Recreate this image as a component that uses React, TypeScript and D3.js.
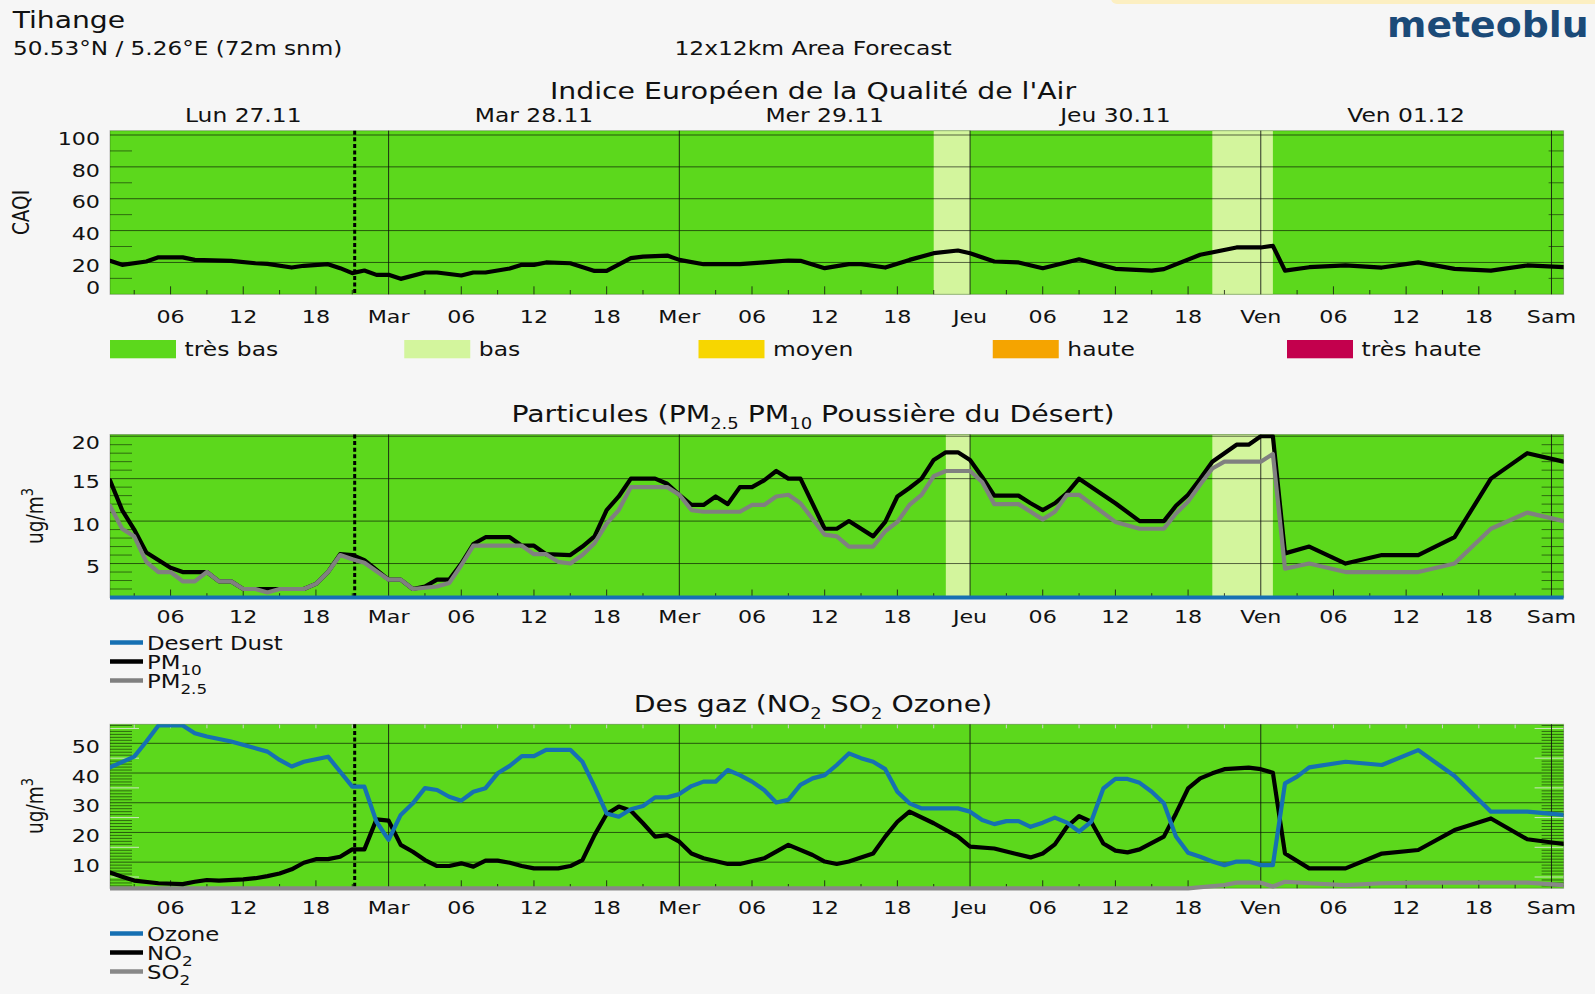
import React from 'react';
import * as d3 from 'd3';

// ---------- time axis (hours counted from Lun 27.11 01:00) ----------
const START = new Date(2023, 10, 27, 1);
const END = new Date(2023, 11, 2, 1);
const NOW_HOUR = 20.2;
const dayAbbr = ['Dim', 'Lun', 'Mar', 'Mer', 'Jeu', 'Ven', 'Sam'];
const dayHeaderLabels = ['Lun 27.11', 'Mar 28.11', 'Mer 29.11', 'Jeu 30.11', 'Ven 01.12'];
const dayHeaderNoon = [
  new Date(2023, 10, 27, 12),
  new Date(2023, 10, 28, 12),
  new Date(2023, 10, 29, 12),
  new Date(2023, 10, 30, 12),
  new Date(2023, 11, 1, 12),
];

// ---------- CAQI classes ----------
const caqiClasses = ['très bas', 'bas', 'moyen', 'haute', 'très haute'];
const caqiColors = ['#5cd81c', '#d3f59d', '#f7d600', '#f5a400', '#c3004d'];

// periods with "bas" background [startHour, endHour]
const caqiBands = [[68, 71], [91, 96]];
const pmBands = [[69, 71], [91, 96]];

// ---------- series: [hour, value] ----------
const caqi = [[0,21],[1,18.5],[3,20.6],[4,23.2],[6,23.2],[7,21.6],[10,21],[12,19.5],[13,19.1],[15,16.8],[16,17.9],[18,18.9],[19,16.4],[20,13.3],[21,14.9],[22,12.2],[23,12.2],[24,9.7],[26,13.7],[27,13.7],[29,11.8],[30,13.7],[31,13.7],[33,16.2],[34,18.5],[35,18.5],[36,20],[38,19.5],[40,14.7],[41,14.7],[43,22.7],[44,23.7],[46,24.3],[47,21.6],[49,18.9],[52,18.9],[54,20],[56,21.2],[57,21],[59,16.4],[61,18.9],[62,18.9],[64,16.8],[66,21.6],[68,25.8],[70,27.5],[71,25.8],[73,20.6],[75,20],[77,16.4],[80,22],[82,18],[83,16],[86,14.9],[87,15.8],[90,24.8],[93,29.4],[95,29.4],[96,30.4],[97,14.9],[99,17],[102,18.1],[105,16.8],[108,20],[111,16],[114,14.9],[117,18.1],[120,17]];

const pm10 = [[0,14.8],[1,11.3],[2,9.0],[3,6.3],[5,4.5],[6,4.0],[8,4.0],[9,2.9],[10,2.9],[11,2.0],[12,2.0],[13,2.0],[14,2.0],[16,2.0],[17,2.6],[18,4.0],[19,6.1],[20,6.0],[21,5.4],[23,3.1],[24,3.1],[25,2.0],[26,2.3],[27,3.1],[28,3.1],[29,5.0],[30,7.3],[31,8.1],[33,8.1],[34,7.1],[35,7.1],[36,6.1],[38,6.0],[39,7.0],[40,8.2],[41,11.3],[42,12.9],[43,15.0],[45,15.0],[46,14.4],[47,13.1],[48,11.9],[49,11.9],[50,12.9],[51,12.0],[52,14.0],[53,14.0],[54,14.8],[55,15.9],[56,15.0],[57,15.0],[59,9.1],[60,9.1],[61,10.0],[63,8.2],[64,9.9],[65,12.9],[66,13.9],[67,15.0],[68,17.2],[69,18.1],[70,18.1],[71,17.2],[72,15.2],[73,13.0],[75,13.0],[76,12.1],[77,11.3],[78,12.1],[79,13.3],[80,15.0],[83,12.1],[85,10.0],[87,10.0],[88,11.8],[89,13.1],[90,15.0],[91,17.0],[92,18.0],[93,19.0],[94,19.0],[95,20.0],[96,20.0],[97,6.2],[99,7.0],[102,5.0],[105,6.0],[108,6.0],[111,8.1],[114,15.0],[117,18.0],[120,17.0]];

const pm25 = [[0,11.8],[1,9.1],[2,8.2],[3,5.2],[4,4.0],[5,4.0],[6,2.9],[7,2.9],[8,4.0],[9,2.9],[10,2.9],[11,2.0],[12,2.0],[13,1.6],[14,2.0],[16,2.0],[17,2.6],[18,4.0],[19,6.0],[20,5.5],[21,5.1],[23,3.1],[24,3.1],[25,2.0],[27,2.3],[28,2.7],[29,4.8],[30,7.1],[34,7.1],[35,6.1],[36,6.1],[37,5.2],[38,5.0],[39,6.0],[40,7.4],[41,9.7],[42,11.3],[43,14.0],[46,14.0],[47,13.1],[48,11.3],[49,11.1],[52,11.1],[53,11.9],[54,11.9],[55,12.9],[56,13.1],[57,12.1],[59,8.4],[60,8.2],[61,7.0],[63,7.0],[64,8.8],[65,9.9],[66,11.9],[67,13.1],[68,15.3],[69,15.9],[71,15.9],[72,14.6],[73,12.0],[75,12.0],[76,11.1],[77,10.2],[78,11.1],[79,13.1],[80,13.1],[83,9.9],[85,9.1],[87,9.1],[88,10.9],[89,12.3],[90,14.3],[91,16.2],[92,17.0],[95,17.0],[96,17.9],[97,4.4],[99,5.0],[102,4.0],[108,4.0],[111,5.0],[114,9.1],[117,11.0],[120,10.0]];

const desertDust = [[0,1.0],[24,1.0],[48,1.0],[72,1.0],[96,1.0],[120,1.0]];

const ozone = [[0,41.9],[2,45.5],[3,50.6],[4,56.0],[6,56.0],[7,53.4],[8,52.3],[10,50.6],[13,47.2],[14,44.4],[15,42.2],[16,43.8],[18,45.5],[20,35.4],[21,35.4],[22,23.6],[23,17.5],[24,25.9],[25,29.8],[26,34.9],[27,34.3],[28,32.0],[29,30.7],[30,33.7],[31,34.9],[32,39.9],[33,42.4],[34,45.7],[35,45.7],[36,47.8],[38,47.8],[39,43.8],[40,35.4],[41,26.4],[42,25.3],[43,27.8],[44,28.9],[45,31.8],[46,31.8],[47,32.9],[48,35.6],[49,37.1],[50,37.1],[51,41.0],[52,39.3],[53,37.1],[54,34.3],[55,30.1],[56,31.0],[57,36.0],[58,38.2],[59,39.3],[60,42.7],[61,46.6],[62,45.0],[63,43.8],[64,41.3],[65,33.7],[66,29.8],[67,28.1],[70,28.1],[71,27.0],[72,24.2],[73,22.8],[74,23.8],[75,23.8],[76,21.9],[77,23.3],[78,25.0],[79,23.3],[80,20.3],[81,23.6],[82,34.8],[83,38.0],[84,38.0],[85,36.7],[86,33.7],[87,29.8],[88,18.6],[89,13.2],[90,11.8],[91,10.2],[92,9.0],[93,10.2],[94,10.2],[95,9.0],[96,9.0],[97,36.5],[98,38.8],[99,41.9],[102,43.8],[105,42.7],[108,47.7],[111,39.0],[114,27.0],[117,27.0],[120,25.9]];

const no2 = [[0,6.5],[1,5.1],[2,3.8],[4,2.9],[6,2.6],[7,3.4],[8,4.0],[9,3.8],[11,4.2],[12,4.6],[13,5.3],[14,6.2],[15,7.6],[16,9.8],[17,11.0],[18,11.0],[19,11.8],[20,14.3],[21,14.3],[22,24.4],[23,24.0],[24,15.8],[25,13.5],[26,10.7],[27,8.7],[28,8.7],[29,9.6],[30,8.5],[31,10.5],[32,10.5],[33,9.8],[34,8.7],[35,7.9],[37,7.9],[38,8.7],[39,10.7],[40,19.1],[41,26.2],[42,28.7],[43,27.3],[44,23.1],[45,18.6],[46,19.1],[47,16.9],[48,12.9],[49,11.3],[51,9.4],[52,9.4],[54,11.3],[56,15.8],[58,12.4],[59,10.2],[60,9.4],[61,10.2],[63,12.9],[64,18.6],[65,23.6],[66,27.0],[68,23.1],[70,18.6],[71,15.2],[73,14.6],[76,11.6],[77,12.9],[78,16.0],[79,21.9],[80,25.5],[81,23.6],[82,16.3],[83,13.9],[84,13.3],[85,14.3],[87,18.6],[88,26.4],[89,34.8],[90,38.2],[91,39.9],[92,41.3],[94,41.8],[95,41.3],[96,40.1],[97,12.9],[99,7.9],[102,7.9],[105,12.9],[108,14.1],[111,20.8],[114,24.7],[117,17.7],[120,16.1]];

const so2 = [[0,1.2],[24,1.2],[48,1.2],[72,1.2],[89,1.2],[92,2.3],[93,3.1],[95,3.1],[96,1.8],[97,3.4],[99,2.9],[102,2.3],[105,2.9],[108,3.1],[111,3.1],[114,3.1],[117,3.1],[120,2.3]];

// ---------- axis tick values ----------
const caqiTicks = [0, 20, 40, 60, 80, 100];
const pmTicks = [5, 10, 15, 20];
const gasTicks = [10, 20, 30, 40, 50];

// ---------- style ----------
const S = 1.2;
const FONT = 'DejaVu Sans, sans-serif';
const GREEN = caqiColors[0];
const LIGHT = caqiColors[1];
const INK = '#111';
const BLUE = '#1670b3';

const hourDate = (h) => new Date(START.getTime() + h * 3600000);

function Txt({ x, y, size, anchor = 'start', weight = 'normal', fill = INK, rotate = false, sx = S, children }) {
  const tf = `translate(${x},${y}) scale(${sx},1)` + (rotate ? ' rotate(-90)' : '');
  return (
    <text transform={tf} fontSize={size} textAnchor={anchor} fontWeight={weight} fill={fill} fontFamily={FONT}>
      {children}
    </text>
  );
}

function Sub({ children, size, shift }) {
  return <tspan fontSize={size} baselineShift={-shift}>{children}</tspan>;
}

function Panel({ id, x, top, bottom, yDomain, ticks, grid, minor, minorLong = [], rightLen, bands, series, labelBase, topTicks }) {
  const y = d3.scaleLinear().domain(yDomain).range([bottom, top]);
  const [x0, x1] = x.range();
  const line = d3.line().x((d) => x(hourDate(d[0]))).y((d) => y(d[1])).curve(d3.curveLinear);
  const xt = x.ticks(d3.timeHour.every(3));
  const nowX = x(hourDate(NOW_HOUR));
  return (
    <g>
      <defs>
        <clipPath id={id}>
          <rect x={x0} y={top} width={x1 - x0} height={bottom - top + 4} />
        </clipPath>
      </defs>
      <rect x={x0} y={top} width={x1 - x0} height={bottom - top} fill={GREEN} />
      {bands.map((b, i) => (
        <rect key={i} x={x(hourDate(b[0]))} y={top} width={x(hourDate(b[1])) - x(hourDate(b[0]))} height={bottom - top} fill={LIGHT} />
      ))}
      {grid.map((v) => (
        <line key={'g' + v} x1={x0} x2={x1} y1={y(v)} y2={y(v)} stroke="#000" strokeOpacity={0.6} strokeWidth={1} />
      ))}
      {minor.map((v) => (
        <g key={'m' + v}>
          <line x1={x0} x2={x0 + 22} y1={y(v)} y2={y(v)} stroke="#000" strokeOpacity={0.5} strokeWidth={1} />
          <line x1={x1 - rightLen} x2={x1} y1={y(v)} y2={y(v)} stroke="#000" strokeOpacity={0.5} strokeWidth={1} />
        </g>
      ))}
      {minorLong.map((v) => (
        <g key={'ml' + v}>
          <line x1={x0} x2={x0 + 29} y1={y(v)} y2={y(v)} stroke="#e8e8e8" strokeOpacity={0.8} strokeWidth={1} />
          <line x1={x1 - 29} x2={x1} y1={y(v)} y2={y(v)} stroke="#e8e8e8" strokeOpacity={0.8} strokeWidth={1} />
        </g>
      ))}
      {xt.map((d, i) => {
        const h = d.getHours();
        const px = x(d);
        if (h === 0) {
          return <line key={'v' + i} x1={px} x2={px} y1={top} y2={bottom} stroke="#111" strokeOpacity={0.85} strokeWidth={1} />;
        }
        const len = h % 6 === 0 ? 8 : 4.3;
        return (
          <g key={'v' + i}>
            <line x1={px} x2={px} y1={bottom - len} y2={bottom} stroke="#111" strokeOpacity={0.8} strokeWidth={1} />
            {topTicks && <line x1={px} x2={px} y1={top} y2={top + 4} stroke="#d0d0d0" strokeWidth={1} />}
          </g>
        );
      })}
      <rect x={x0} y={top} width={x1 - x0} height={bottom - top} fill="none" stroke="#000" strokeOpacity={0.25} strokeWidth={1} />
      <line x1={nowX} x2={nowX} y1={top} y2={bottom} stroke="#000" strokeWidth={3} strokeDasharray="4 2.6" />
      <g clipPath={`url(#${id})`}>
        {series.map((s, i) => (
          <path key={i} d={line(s.data)} fill="none" stroke={s.color} strokeWidth={4.2} strokeLinejoin="round" strokeLinecap="round" />
        ))}
      </g>
      {ticks.map((v) => {
        const c = Math.max(top + 7.5, Math.min(bottom - 6.7, y(v) + 3));
        return (
          <Txt key={'yl' + v} x={100} y={c + 6.7} size={18.5} anchor="end">{String(v)}</Txt>
        );
      })}
      {xt.filter((d) => d.getHours() % 6 === 0).map((d, i) => {
        const h = d.getHours();
        const lab = h === 0 ? dayAbbr[d.getDay()] : d3.timeFormat('%H')(d);
        return (
          <Txt key={'xl' + i} x={x(d)} y={labelBase} size={18.5} anchor="middle">{lab}</Txt>
        );
      })}
    </g>
  );
}

export default function App() {
  const x = d3.scaleTime().domain([START, END]).range([110, 1563.6]);
  const minorPm = d3.range(2, 21).filter((v) => v % 5 !== 0);
  const minorGas = d3.range(2, 57).filter((v) => v % 5 !== 0);
  const minorGasLong = d3.range(5, 57, 10);
  return (
    <svg width={1595} height={994} style={{ position: 'absolute', left: 0, top: 0, display: 'block' }}>
      <rect x={0} y={0} width={1595} height={994} fill="#f6f6f6" />
      <rect x={1111} y={-8} width={520} height={12} rx={6} fill="#fcefc2" />

      <Txt x={12.7} y={28.3} size={23.5}>Tihange</Txt>
      <Txt x={13} y={55} size={19.3}>50.53°N / 5.26°E (72m snm)</Txt>
      <Txt x={813} y={55} size={19.5} anchor="middle">12x12km Area Forecast</Txt>
      <Txt x={1387} y={37} size={36} weight="bold" fill="#1b4a78" sx={1.05}>meteoblu</Txt>

      {/* Panel 1 */}
      <Txt x={813} y={99} size={23.6} anchor="middle">Indice Européen de la Qualité de l'Air</Txt>
      {dayHeaderLabels.map((lab, i) => (
        <Txt key={lab} x={x(dayHeaderNoon[i])} y={122.3} size={19.5} anchor="middle">{lab}</Txt>
      ))}
      <Panel id="c1" x={x} top={130.7} bottom={294.3} yDomain={[0, 102.7]} ticks={caqiTicks}
        grid={[20, 40, 60, 80, 100]} minor={[10, 30, 50, 70, 90]} rightLen={15}
        bands={caqiBands} series={[{ data: caqi, color: '#000' }]} labelBase={322.5} topTicks={false} />
      <Txt x={29} y={212.5} size={18.5} anchor="middle" rotate>CAQI</Txt>
      {caqiClasses.map((c, i) => (
        <g key={c}>
          <rect x={110 + i * 294.25} y={340} width={66} height={18.3} fill={caqiColors[i]} />
          <Txt x={110 + i * 294.25 + 74.6} y={356} size={19.5}>{c}</Txt>
        </g>
      ))}

      {/* Panel 2 */}
      <Txt x={813} y={421.5} size={23.6} anchor="middle">
        Particules (PM<Sub size={15} shift={7}>2.5</Sub> PM<Sub size={15} shift={7}>10</Sub> Poussière du Désert)
      </Txt>
      <Panel id="c2" x={x} top={434.5} bottom={597.5} yDomain={[1, 20.2]} ticks={pmTicks}
        grid={[5, 10, 15, 20]} minor={minorPm} rightLen={22}
        bands={pmBands}
        series={[{ data: desertDust, color: BLUE }, { data: pm10, color: '#000' }, { data: pm25, color: '#808080' }]}
        labelBase={623.3} topTicks={false} />
      <Txt x={43} y={516} size={18.5} anchor="middle" rotate>
        ug/m<tspan fontSize={13} baselineShift={8}>3</tspan>
      </Txt>
      {[
        { c: BLUE, t: <>Desert Dust</> },
        { c: '#000', t: <>PM<Sub size={14} shift={6.5}>10</Sub></> },
        { c: '#808080', t: <>PM<Sub size={14} shift={6.5}>2.5</Sub></> },
      ].map((e, i) => (
        <g key={i}>
          <line x1={110} x2={143} y1={642.5 + i * 19} y2={642.5 + i * 19} stroke={e.c} strokeWidth={4.5} />
          <Txt x={147} y={649.8 + i * 19} size={19}>{e.t}</Txt>
        </g>
      ))}

      {/* Panel 3 */}
      <Txt x={813} y={712} size={23.6} anchor="middle">
        Des gaz (NO<Sub size={15} shift={7}>2</Sub> SO<Sub size={15} shift={7}>2</Sub> Ozone)
      </Txt>
      <Panel id="c3" x={x} top={724.3} bottom={888.3} yDomain={[1.2, 56.4]} ticks={gasTicks}
        grid={[10, 20, 30, 40, 50]} minor={minorGas} minorLong={minorGasLong} rightLen={22}
        bands={[]}
        series={[{ data: so2, color: '#888888' }, { data: no2, color: '#000' }, { data: ozone, color: BLUE }]}
        labelBase={914.3} topTicks={true} />
      <Txt x={43} y={806} size={18.5} anchor="middle" rotate>
        ug/m<tspan fontSize={13} baselineShift={8}>3</tspan>
      </Txt>
      {[
        { c: BLUE, t: <>Ozone</> },
        { c: '#000', t: <>NO<Sub size={14} shift={6.5}>2</Sub></> },
        { c: '#888888', t: <>SO<Sub size={14} shift={6.5}>2</Sub></> },
      ].map((e, i) => (
        <g key={i}>
          <line x1={110} x2={143} y1={933.5 + i * 19} y2={933.5 + i * 19} stroke={e.c} strokeWidth={4.5} />
          <Txt x={147} y={940.8 + i * 19} size={19}>{e.t}</Txt>
        </g>
      ))}
    </svg>
  );
}
